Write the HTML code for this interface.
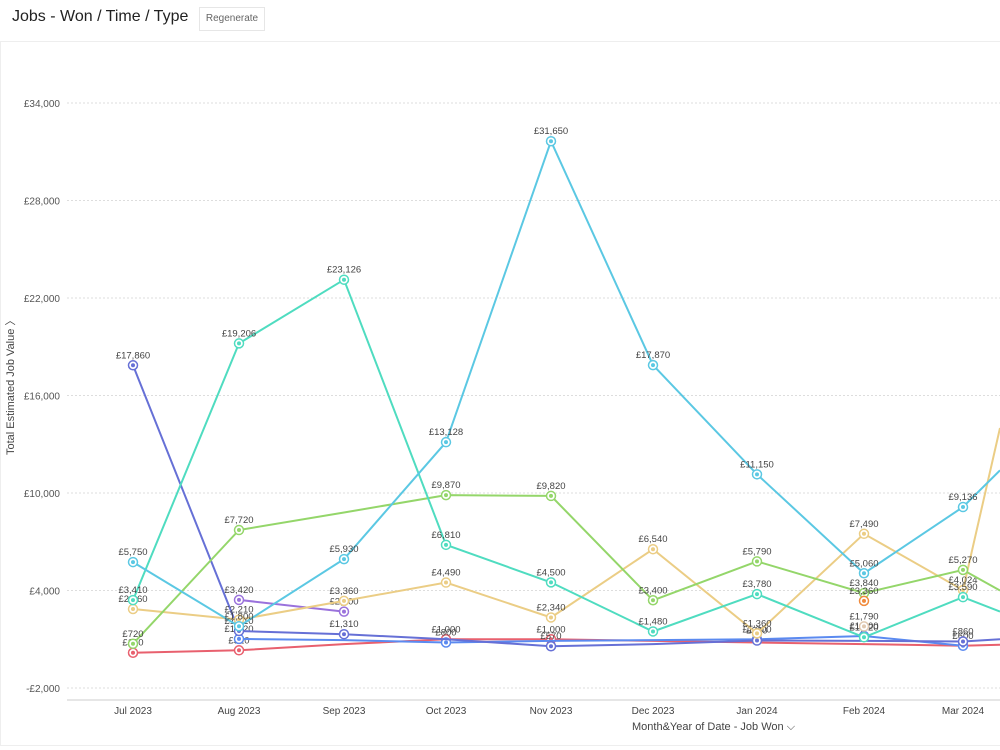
<!DOCTYPE html>
<html><head><meta charset="utf-8"><style>
body{margin:0;width:1000px;height:750px;background:#fff;font-family:"Liberation Sans",sans-serif;overflow:hidden;position:relative}
.t{position:absolute;left:12px;top:8px;font-size:16px;color:#222}
.b{position:absolute;left:199px;top:7px;width:64px;height:22px;border:1px solid #e6e6e6;font-size:10px;color:#666;line-height:22px;text-align:center}
.hl{position:absolute;left:0;top:41px;width:1000px;height:1px;background:#eee}
.bl{position:absolute;left:0;top:745px;width:1000px;height:1px;background:#eee}
.vl{position:absolute;left:0;top:42px;width:1px;height:703px;background:#eee}
</style></head><body>
<div class="t">Jobs - Won / Time / Type</div>
<div class="b">Regenerate</div>
<div class="hl"></div><div class="vl"></div><div class="bl"></div>
<svg id="s" width="1000" height="750" style="position:absolute;left:0;top:0" font-family="Liberation Sans, sans-serif"></svg>
<script>
var s=document.getElementById('s'),h='';
function Y(v){return 688-(v+2000)*0.01625}
var XS=[133,239,344,446,551,653,757,864,963];
function X(i){return XS[i]}
var ticks=[34000,28000,22000,16000,10000,4000,-2000];
ticks.forEach(function(v){var y=Y(v);h+='<line x1="67" x2="1000" y1="'+y+'" y2="'+y+'" stroke="#ddd" stroke-dasharray="2,2"/>';
h+='<text x="60" y="'+(y+4)+'" font-size="10" fill="#555" text-anchor="end">'+(v<0?'-£2,000':'£'+v.toLocaleString('en-GB'))+'</text>';});
h+='<line x1="67" x2="1000" y1="700" y2="700" stroke="#ccc"/>';
['Jul 2023','Aug 2023','Sep 2023','Oct 2023','Nov 2023','Dec 2023','Jan 2024','Feb 2024','Mar 2024'].forEach(function(m,i){h+='<text x="'+X(i)+'" y="714" font-size="10" fill="#444" text-anchor="middle">'+m+'</text>'});
h+='<text x="632" y="730" font-size="11" fill="#444">Month&amp;Year of Date - Job Won ⌵</text>';
h+='<text transform="translate(14,455) rotate(-90)" font-size="11" fill="#444">Total Estimated Job Value 〉</text>';
function fmt(v){return '£'+v.toLocaleString('en-GB')}
var series=[
['#e8606e',[170,320,null,1000,1000,null,null,null,null],660,[170,320,700,1000,1000,900,800,700,600]],
['#5b8af0',[null,1020,null,800,null,null,1000,1200,600],null,[null,1020,950,800,900,950,1000,1200,600]],
['#6670d6',[17860,1510,1310,null,570,null,920,null,860],1000,[17860,1510,1310,1000,570,700,920,900,860]],
['#9a72dc',[null,3420,2700]],
['#ebcd85',[2860,2210,3360,4490,2340,6540,1360,7490,4024],14000],
['#94d66a',[720,7720,null,9870,9820,3400,5790,3840,5270],4000,[720,7720,8800,9870,9820,3400,5790,3840,5270]],
['#4fdcc0',[3410,19206,23126,6810,4500,1480,3780,1120,3590],2700],
['#5bc8e3',[5750,1800,5930,13128,31650,17870,11150,5060,9136],11400]
];
series.forEach(function(sr){var c=sr[0],pts=sr[1],path=sr[3]||pts,d='';
path.forEach(function(v,i){if(v==null)return;d+=(d?'L':'M')+X(i).toFixed(1)+','+Y(v).toFixed(1)});
if(sr[2]!=null){d+='L1000,'+Y(sr[2]).toFixed(1)}
h+='<path d="'+d+'" fill="none" stroke="'+c+'" stroke-width="2"/>';
pts.forEach(function(v,i){if(v==null)return;var x=X(i),y=Y(v);
h+='<circle cx="'+x+'" cy="'+y+'" r="4.5" fill="#fff" stroke="'+c+'" stroke-width="1.5"/><circle cx="'+x+'" cy="'+y+'" r="2" fill="'+c+'"/>';
h+='<text x="'+x+'" y="'+(y-7)+'" font-size="9.5" fill="#444" text-anchor="middle">'+fmt(v)+'</text>';});
});
[['#f08a3c',3360],['#e0c8b0',1790]].forEach(function(p){var x=X(7),y=Y(p[1]);h+='<circle cx="'+x+'" cy="'+y+'" r="4.5" fill="#fff" stroke="'+p[0]+'" stroke-width="1.5"/><circle cx="'+x+'" cy="'+y+'" r="2" fill="'+p[0]+'"/><text x="'+x+'" y="'+(y-7)+'" font-size="9.5" fill="#444" text-anchor="middle">'+fmt(p[1])+'</text>';});
s.innerHTML=h;
</script>
</body></html>
